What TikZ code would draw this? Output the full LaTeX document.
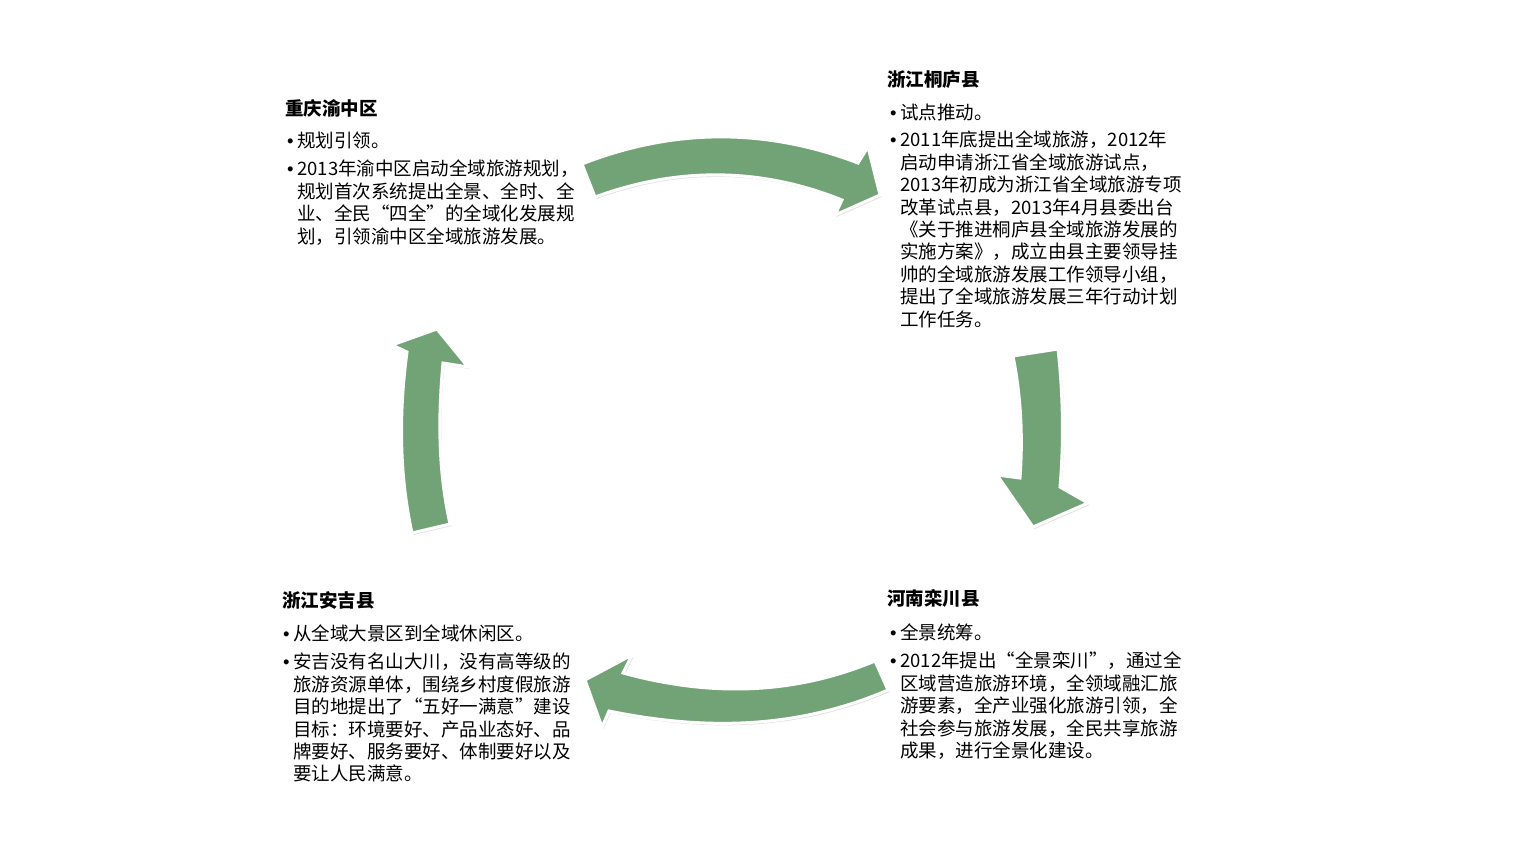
\documentclass[tikz,border=0pt]{standalone}
\usepackage{fontspec}
\setmainfont{Noto Sans CJK SC}
\newfontfamily\bulfont{Liberation Sans}
\usetikzlibrary{shadows}
\definecolor{ArrowClr}{RGB}{114,163,119}
\definecolor{TextClr}{RGB}{0,0,0}
\newcommand\bul{\llap{{\bulfont •}\hspace{3.5pt}}}

\begin{document}
\begin{tikzpicture}[x=1pt,y=-1pt,
  Hd/.style={inner sep=0pt,anchor=west,text=TextClr,font=\bfseries\fontsize{18.5}{22.4}\selectfont},
  Txt/.style={inner sep=0pt,anchor=north west,align=left,text=TextClr,font=\fontsize{18.5}{22.4}\selectfont},
  BlockArrow/.style={fill=ArrowClr,draw=white,line width=3pt,
    drop shadow={shadow xshift=1.5pt,shadow yshift=-2pt,opacity=0.3,fill=black!40}}]
\useasboundingbox[fill=white] (0,0) rectangle (1516,853);

\draw[BlockArrow] (582,164) .. controls (674,128) and (766,128) .. (858,163) -- (868,147) -- (880,195) -- (835,215) -- (842,200) .. controls (760,167) and (677,167) .. (595,197) -- cycle;
\draw[BlockArrow] (1013,356) .. controls (1021,396) and (1023,437) .. (1020,478) -- (997,475) -- (1033,527) -- (1088,503) -- (1060,487) .. controls (1064,440) and (1063,395) .. (1058,349) -- cycle;
\draw[BlockArrow] (888,690) .. controls (795,730) and (702,730) .. (609,711) -- (602,727) -- (585,680) -- (632,655) -- (623,673) .. controls (707,696) and (791,696) .. (875,661) -- cycle;
\draw[BlockArrow] (412,533) .. controls (399,473) and (399,412) .. (407,352) -- (392,345) -- (437,329) -- (468,367) -- (443,363) .. controls (438,417) and (438,470) .. (450,524) -- cycle;

\node[Hd] (CQ) at (285,108) {重庆渝中区};
\node[Txt] (CQa) at (297,132) {\bul 规划引领。};
\node[Txt] (CQb) at (297,160) {\bul 2013年渝中区启动全域旅游规划，\\规划首次系统提出全景、全时、全\\业、全民“四全”的全域化发展规\\划，引领渝中区全域旅游发展。};

\node[Hd] (TL) at (887,80) {浙江桐庐县};
\node[Txt] (TLa) at (900,104) {\bul 试点推动。};
\node[Txt] (TLb) at (900,131) {\bul 2011年底提出全域旅游，2012年\\启动申请浙江省全域旅游试点，\\2013年初成为浙江省全域旅游专项\\改革试点县，2013年4月县委出台\\《关于推进桐庐县全域旅游发展的\\实施方案》，成立由县主要领导挂\\帅的全域旅游发展工作领导小组，\\提出了全域旅游发展三年行动计划\\工作任务。};

\node[Hd] (LC) at (887,598) {河南栾川县};
\node[Txt] (LCa) at (900,624) {\bul 全景统筹。};
\node[Txt] (LCb) at (900,652) {\bul 2012年提出“全景栾川”，通过全\\区域营造旅游环境，全领域融汇旅\\游要素，全产业强化旅游引领，全\\社会参与旅游发展，全民共享旅游\\成果，进行全景化建设。};

\node[Hd] (AJ) at (282,600) {浙江安吉县};
\node[Txt] (AJa) at (293,625) {\bul 从全域大景区到全域休闲区。};
\node[Txt] (AJb) at (293,653) {\bul 安吉没有名山大川，没有高等级的\\旅游资源单体，围绕乡村度假旅游\\目的地提出了“五好一满意”建设\\目标：环境要好、产品业态好、品\\牌要好、服务要好、体制要好以及\\要让人民满意。};
\end{tikzpicture}
\end{document}
